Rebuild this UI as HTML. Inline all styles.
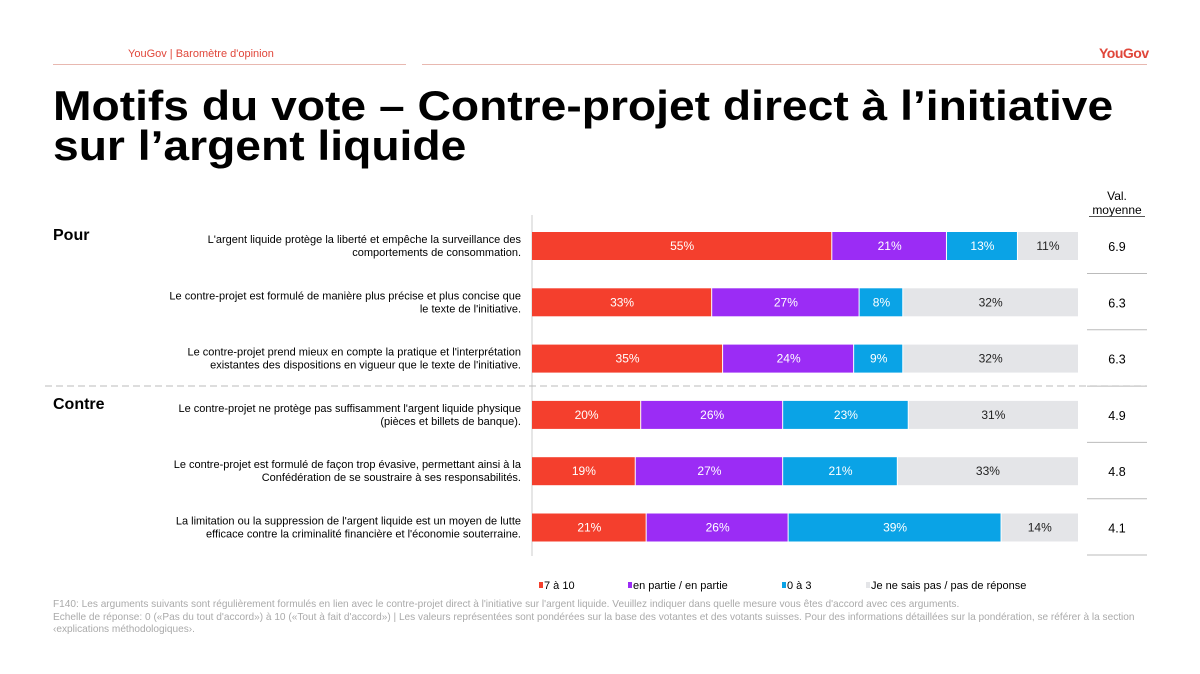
<!DOCTYPE html>
<html><head><meta charset="utf-8"><style>
body{margin:0;width:1200px;height:674px;background:#fff;font-family:"Liberation Sans",sans-serif;position:relative;overflow:hidden}
.a{position:absolute}
</style></head><body>
<div class="a" style="left:128px;top:48px;font-size:11px;color:#e0463a">YouGov | Baromètre d'opinion</div>
<div class="a" style="left:53px;top:64px;width:353px;height:1px;background:#e8b8b0"></div>
<div class="a" style="left:422px;top:64px;width:725px;height:1px;background:#e8b8b0"></div>
<div class="a" style="left:1099px;top:45px;font-size:14px;font-weight:bold;color:#e0463a;letter-spacing:-0.5px">YouGov</div>
<div class="a" style="left:53px;top:86px;font-size:42px;font-weight:bold;line-height:40px;color:#000;transform:scaleX(1.1);transform-origin:0 0;white-space:nowrap">Motifs du vote – Contre-projet direct à l’initiative<br>sur l’argent liquide</div>
<svg class="a" style="left:0;top:0" width="1200" height="674">
<g id="g"></g>
</svg>
<div class="a" style="left:53px;top:599px;font-size:10.1px;line-height:12.5px;color:#aaa;width:1110px;white-space:nowrap">F140: Les arguments suivants sont régulièrement formulés en lien avec le contre-projet direct à l'initiative sur l'argent liquide. Veuillez indiquer dans quelle mesure vous êtes d'accord avec ces arguments.<br>Echelle de réponse: 0 («Pas du tout d'accord») à 10 («Tout à fait d'accord») | Les valeurs représentées sont pondérées sur la base des votantes et des votants suisses. Pour des informations détaillées sur la pondération, se référer à la section<br>‹explications méthodologiques›.</div>
<script>
const categories=["L'argent liquide protège la liberté et empêche la surveillance des|comportements de consommation.","Le contre-projet est formulé de manière plus précise et plus concise que|le texte de l'initiative.","Le contre-projet prend mieux en compte la pratique et l'interprétation|existantes des dispositions en vigueur que le texte de l'initiative.","Le contre-projet ne protège pas suffisamment l'argent liquide physique|(pièces et billets de banque).","Le contre-projet est formulé de façon trop évasive, permettant ainsi à la|Confédération de se soustraire à ses responsabilités.","La limitation ou la suppression de l'argent liquide est un moyen de lutte|efficace contre la criminalité financière et l'économie souterraine."];
const high=[55,33,35,20,19,21];
const mid=[21,27,24,26,27,26];
const low=[13,8,9,23,21,39];
const dk=[11,32,32,31,33,14];
const means=["6.9","6.3","6.3","4.9","4.8","4.1"];
const seriesNames=["7 à 10","en partie / en partie","0 à 3","Je ne sais pas / pas de réponse"];
const colors=["#f43f2d","#9b2cf5","#0aa3e6","#e4e5e8"];
const textColors=["#fff","#fff","#fff","#222"];
const NS="http://www.w3.org/2000/svg";
const g=document.getElementById('g');
const x0=532,w=546;
const xs=v=>x0+v/100*w;
const yc=i=>246+i*56.3;
function mk(t,a,txt){const e=document.createElementNS(NS,t);for(const k in a)e.setAttribute(k,a[k]);if(txt!=null)e.textContent=txt;g.appendChild(e);return e;}
let ax=mk('line',{x1:x0,x2:x0,y1:215,y2:556,stroke:'#ccc'});


let dl=mk('line',{x1:45,x2:1147,y1:386,y2:386,stroke:'#bbb','stroke-dasharray':'7,4'});


let t1=mk('text',{x:53,y:240,'font-size':16,'font-weight':'bold'},'Pour');


let t2=mk('text',{x:53,y:409,'font-size':16,'font-weight':'bold'},'Contre');


let h1=mk('text',{x:1117,y:200,'font-size':12,'text-anchor':'middle'},'Val.');


let h2=mk('text',{x:1117,y:214,'font-size':12,'text-anchor':'middle'},'moyenne');


let hl=mk('line',{x1:1089,x2:1145,y1:216.5,y2:216.5,stroke:'#555'});


const series=[high,mid,low,dk];
categories.forEach((c,i)=>{
  const y=yc(i);
  c.split('|').forEach((ln,k)=>{
    const t=mk('text',{x:521,y:y-3+k*13,'font-size':11,'text-anchor':'end'},ln);
    
    
  });
  let acc=0;
  series.forEach((s,j)=>{
    const v=s[i];
    const r=mk('rect',{x:xs(acc),y:y-14,width:xs(acc+v)-xs(acc)-(j<3?1:0),height:28,fill:colors[j]});
    
    
    const t=mk('text',{x:(xs(acc)+xs(acc+v))/2,y:y+4,'font-size':12,'text-anchor':'middle',fill:textColors[j]},v+'%');
    
    
    acc+=v;
  });
  const m=mk('text',{x:1117,y:y+5,'font-size':12.5,'text-anchor':'middle'},means[i]);
  
  
  const sl=mk('line',{x1:1087,x2:1147,y1:y+27.5,y2:y+27.5,stroke:'#bbb'});
  
  
});
const lx=[539,628,782,866];
seriesNames.forEach((n,j)=>{
  const r=mk('rect',{x:lx[j],y:582,width:4,height:6,fill:colors[j]});
  
  
  const t=mk('text',{x:lx[j]+5,y:589,'font-size':11},n);
  
  
});
</script>
</body></html>
